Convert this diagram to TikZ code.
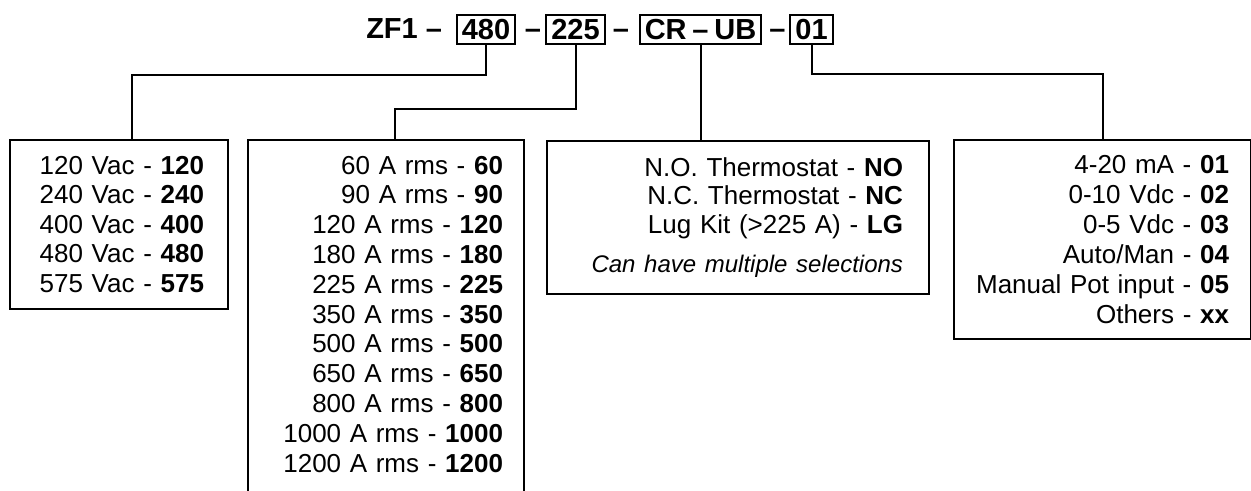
\documentclass[tikz,border=0pt]{standalone}
\usepackage{fontspec}
\setmainfont{Liberation Sans}
\usetikzlibrary{positioning}
\usetikzlibrary{calc}

\begin{document}
\begin{tikzpicture}[x=0.5pt, y=-0.5pt, line width=1pt,
    codebox/.style={draw, inner xsep=2.5pt, inner ysep=0pt, minimum height=14.5pt, font=\fontsize{14.5}{17}\selectfont\bfseries},
    codetext/.style={inner sep=0pt, anchor=base, font=\fontsize{14.5}{17}\selectfont\bfseries},
    optbox/.style={draw, anchor=north west, align=right, inner ysep=0pt}]
      \useasboundingbox (0,0) rectangle (1251,491);
      \clip (0,0) rectangle (1251,491);
      % Baseline of the part number
      \def\codebase{39}
      % Part number fields
      \node[codebox] (b480) at (486,29.5) {480};
      \node[codebox] (b225) at (575.5,29.5) {225};
      \node[codebox] (bcrub) at (700.5,29.5) {CR\hspace{0.2em}\textendash\hspace{0.2em}UB};
      \node[codebox] (b01) at (811.5,29.5) {01};
      % Prefix and dashes between the fields
      \node[codetext, anchor=base east] (zf) at (443,\codebase) {ZF1 \textendash};
      \foreach \x/\n in {533/1, 621/2, 777.5/3} {
        \node[codetext] (d\n) at (\x,\codebase) {\textendash};
      }
      % Option boxes
      \node[optbox, inner xsep=12pt, text width=85pt, minimum height=84.5pt,
        font=\fontsize{13}{14.75}\selectfont] (volt) at (9,139)
        {120 Vac - \textbf{120}\\ 240 Vac - \textbf{240}\\ 400 Vac - \textbf{400}\\
         480 Vac - \textbf{480}\\ 575 Vac - \textbf{575}};
      \node[optbox, inner xsep=10.5pt, inner ysep=8pt, text width=117pt,
        font=\fontsize{13}{14.9}\selectfont] (amps) at (247,139)
        {60 A rms - \textbf{60}\\ 90 A rms - \textbf{90}\\ 120 A rms - \textbf{120}\\
         180 A rms - \textbf{180}\\ 225 A rms - \textbf{225}\\ 350 A rms - \textbf{350}\\
         500 A rms - \textbf{500}\\ 650 A rms - \textbf{650}\\ 800 A rms - \textbf{800}\\
         1000 A rms - \textbf{1000}\\ 1200 A rms - \textbf{1200}\\ \mbox{}};
      \node[optbox, inner xsep=13pt, text width=165pt, minimum height=76.5pt,
        font=\fontsize{13}{14.25}\selectfont] (term) at (546,140)
        {N.O. Thermostat - \textbf{NO}\\ N.C. Thermostat - \textbf{NC}\\
         Lug Kit (>225 A) - \textbf{LG}\\[5.25pt]
         {\fontsize{12}{14.25}\selectfont\itshape Can have multiple selections}\hspace*{5.5pt}};
      \node[optbox, inner xsep=11pt, text width=126.5pt, minimum height=99.5pt,
        font=\fontsize{13}{15}\selectfont] (out) at (953,139)
        {4-20 mA - \textbf{01}\\ 0-10 Vdc - \textbf{02}\\ 0-5 Vdc - \textbf{03}\\
         Auto/Man - \textbf{04}\\ Manual Pot input - \textbf{05}\\ Others - \textbf{xx}};
      % Connectors from the fields down to the boxes
      \coordinate (k480) at (132,75);
      \coordinate (k225) at (395,109);
      \draw (b480.south) |- (k480) -- (k480 |- volt.north);
      \draw (b225.south) |- (k225) -- (k225 |- amps.north);
      \draw (bcrub.south) -- (bcrub.south |- term.north);
      \draw (b01.south) |- ($(out.north)+(0,-65)$) -- (out.north);
    \end{tikzpicture}
\end{document}
